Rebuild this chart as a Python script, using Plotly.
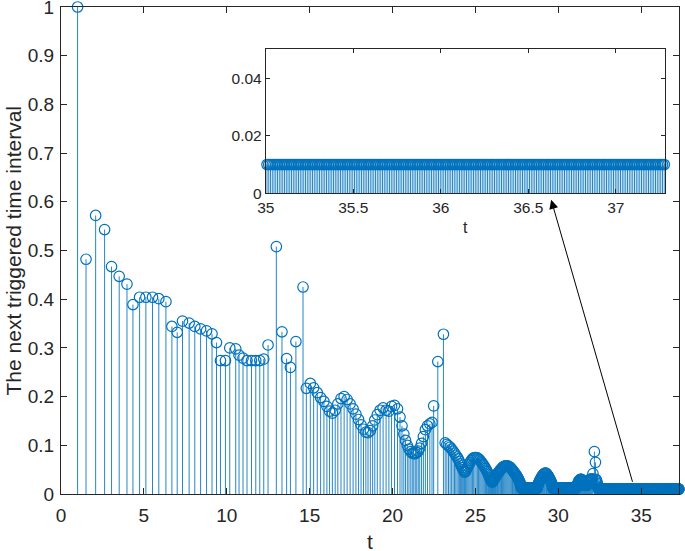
import numpy as np
import plotly.graph_objects as go

# ---- sparse part: trigger instants and the next triggered interval ----
t_sparse = [1.00, 1.51, 2.09, 2.63, 3.05, 3.51, 3.98, 4.34, 4.74, 5.12,
            5.52, 5.90, 6.33, 6.69, 7.01, 7.33, 7.73, 8.07, 8.42, 8.78,
            9.11, 9.38, 9.62, 9.92, 10.18, 10.54, 10.74, 10.98, 11.22, 11.49,
            11.75, 11.99, 12.23, 12.49, 12.99, 13.33, 13.61, 13.84, 14.17, 14.60,
            14.80, 15.04, 15.24, 15.46, 15.66, 15.86, 16.04, 16.20, 16.37, 16.54,
            16.70, 16.89, 17.08, 17.26, 17.44, 17.62, 17.79, 17.95, 18.10, 18.25,
            18.39, 18.52, 18.66, 18.80, 18.93, 19.08, 19.25, 19.43, 19.61, 19.78,
            19.94, 20.12, 20.30, 20.45, 20.57, 20.68, 20.78, 20.89, 20.99, 21.10,
            21.19, 21.28, 21.37, 21.46, 21.55, 21.64, 21.75, 21.86, 21.98, 22.11,
            22.25, 22.38, 22.48, 22.73, 23.07]
y_sparse = [1.000, 0.482, 0.572, 0.543, 0.467, 0.447, 0.431, 0.389, 0.404, 0.404,
            0.404, 0.401, 0.395, 0.344, 0.332, 0.355, 0.351, 0.344, 0.339, 0.335,
            0.329, 0.311, 0.274, 0.274, 0.300, 0.298, 0.285, 0.279, 0.274, 0.274,
            0.274, 0.274, 0.277, 0.306, 0.508, 0.333, 0.278, 0.260, 0.313, 0.425,
            0.217, 0.227, 0.218, 0.208, 0.198, 0.190, 0.180, 0.170, 0.166, 0.172,
            0.185, 0.196, 0.200, 0.194, 0.185, 0.175, 0.164, 0.153, 0.142, 0.133,
            0.127, 0.126, 0.130, 0.140, 0.152, 0.163, 0.172, 0.177, 0.172, 0.170,
            0.180, 0.182, 0.175, 0.158, 0.140, 0.123, 0.110, 0.100, 0.092, 0.087,
            0.084, 0.083, 0.083, 0.085, 0.088, 0.094, 0.104, 0.118, 0.132, 0.140,
            0.144, 0.147, 0.181, 0.272, 0.328]

# ---- dense part: successive intervals (each interval is the next stem height) ----
dense_a = [0.105, 0.102, 0.099, 0.096, 0.092, 0.088, 0.084, 0.080, 0.076, 0.072,
           0.067, 0.062, 0.058, 0.054, 0.050, 0.047, 0.045]
dense_b = [0.046, 0.049, 0.053, 0.057, 0.061, 0.065, 0.069, 0.072, 0.074, 0.075]
dense_c = [0.075, 0.074, 0.072, 0.070, 0.067, 0.064, 0.061, 0.058, 0.055, 0.052,
           0.049, 0.046, 0.043, 0.040, 0.037, 0.034, 0.031, 0.029, 0.027, 0.026, 0.025]
dense_d = [0.025, 0.026, 0.028, 0.030, 0.032, 0.034, 0.036, 0.038, 0.040, 0.042,
           0.044, 0.046, 0.048, 0.050, 0.052, 0.054, 0.056, 0.057, 0.058, 0.058,
           0.058, 0.057, 0.056]
dense_e = [0.055, 0.053, 0.051, 0.049, 0.047, 0.045, 0.043, 0.041, 0.039, 0.037,
           0.035, 0.033, 0.031, 0.029, 0.027, 0.025, 0.023, 0.021, 0.019, 0.017,
           0.015, 0.013, 0.012]
dense_f = [0.012] * 77
dense_g = [0.013, 0.015, 0.017, 0.019, 0.021, 0.023, 0.025, 0.027, 0.029, 0.031,
           0.033, 0.035, 0.037, 0.039, 0.041, 0.042, 0.043,
           0.043, 0.042, 0.040, 0.038, 0.036, 0.034, 0.032, 0.030, 0.028, 0.026,
           0.024, 0.022, 0.020, 0.018, 0.016, 0.014, 0.013, 0.012]
dense_h = [0.012] * 114
dense_i = [0.012, 0.013, 0.014, 0.015, 0.017, 0.019, 0.021, 0.023, 0.025, 0.027,
           0.028, 0.029, 0.030, 0.030, 0.030, 0.029, 0.028, 0.027, 0.026,
           0.024, 0.022, 0.020, 0.019, 0.018, 0.018, 0.018, 0.019,
           0.018, 0.018, 0.018, 0.018, 0.018,
           0.020, 0.022, 0.024, 0.026, 0.028, 0.030, 0.030, 0.030, 0.029, 0.028,
           0.031, 0.042, 0.087, 0.065, 0.030, 0.028, 0.025, 0.022, 0.019, 0.016,
           0.014, 0.012]
dense_tail = [0.01] * 487

# tick labels
main_xticks = [0, 5, 10, 15, 20, 25, 30, 35]
main_yticks = [0, 0.1, 0.2, 0.3, 0.4, 0.5, 0.6, 0.7, 0.8, 0.9, 1]
main_ytext = ["0", "0.1", "0.2", "0.3", "0.4", "0.5", "0.6", "0.7", "0.8", "0.9", "1"]
inset_xticks = [35, 35.5, 36, 36.5, 37]
inset_yticks = [0, 0.02, 0.04]
inset_ytext = ["0", "0.02", "0.04"]

dense_y = np.array(dense_a + dense_b + dense_c + dense_d + dense_e + dense_f
                   + dense_g + dense_h + dense_i + dense_tail)
dense_t = t_sparse[-1] + np.cumsum(dense_y)

t_all = np.concatenate([np.array(t_sparse), dense_t])
y_all = np.concatenate([np.array(y_sparse), dense_y])

X_MAX = 37.28
BLUE = "#0072BD"
AX = "#262626"
FONT = "Liberation Sans, Arial, Helvetica, sans-serif"


def stem_xy(t, y):
    xs, ys = [], []
    for a, b in zip(t, y):
        xs += [a, a, None]
        ys += [0, b, None]
    return xs, ys


fig = go.Figure()

sx, sy = stem_xy(t_all, y_all)
fig.add_trace(go.Scatter(x=sx, y=sy, mode="lines",
                         line=dict(color=BLUE, width=1), opacity=0.85,
                         hoverinfo="skip", showlegend=False))
fig.add_trace(go.Scatter(x=t_all, y=y_all, mode="markers",
                         marker=dict(symbol="circle-open", size=10.5, color=BLUE,
                                     line=dict(color=BLUE, width=1.2)),
                         cliponaxis=False, showlegend=False))

# inset: zoom on the tail
mask = t_all >= 34.995
ti, yi = t_all[mask], y_all[mask]
sx2, sy2 = stem_xy(ti, yi)
fig.add_trace(go.Scatter(x=sx2, y=sy2, mode="lines", xaxis="x2", yaxis="y2",
                         line=dict(color=BLUE, width=1), opacity=0.85,
                         hoverinfo="skip", showlegend=False))
fig.add_trace(go.Scatter(x=ti, y=yi, mode="markers", xaxis="x2", yaxis="y2",
                         marker=dict(symbol="circle-open", size=10.5, color=BLUE,
                                     line=dict(color=BLUE, width=1.2)),
                         cliponaxis=False, showlegend=False))


def axis_style(ticklen, size, standoff):
    return dict(showline=True, linecolor=AX, linewidth=1, mirror="ticks",
                ticks="inside", tickcolor=AX, ticklen=ticklen, showgrid=False,
                zeroline=False, automargin=False, ticklabeloverflow="allow",
                ticklabelstandoff=standoff,
                tickfont=dict(family=FONT, color=AX, size=size))


fig.update_layout(
    width=685, height=551,
    margin=dict(l=61, r=6, t=7, b=57),
    paper_bgcolor="white", plot_bgcolor="white",
    font=dict(family=FONT, color=AX),
    xaxis=dict(range=[0, X_MAX], tickmode="array", tickvals=main_xticks,
               **axis_style(6, 19, 4)),
    yaxis=dict(range=[0, 1], tickmode="array", tickvals=main_yticks,
               ticktext=main_ytext, **axis_style(6, 19, 2)),
    xaxis2=dict(domain=[0.3314, 0.977], anchor="y2", range=[35, X_MAX],
                tickmode="array", tickvals=inset_xticks, **axis_style(4, 15.5, 0)),
    yaxis2=dict(domain=[0.6175, 0.9131], anchor="x2", range=[0, 0.05],
                tickmode="array", tickvals=inset_yticks, ticktext=inset_ytext,
                **axis_style(4, 15.5, 0)),
    annotations=[
        dict(x=29.57, y=0.604, ax=34.50, ay=0.022,
             xref="x", yref="y", axref="x", ayref="y",
             text="", showarrow=True, arrowhead=2, arrowsize=1.8,
             arrowwidth=1, arrowcolor="black", standoff=0),
        dict(text="t", xref="paper", yref="paper", x=0.5, y=-0.098,
             xanchor="center", yanchor="middle", showarrow=False,
             font=dict(family=FONT, size=21, color=AX)),
        dict(text="The next triggered time interval", xref="paper", yref="paper",
             x=-0.0761, y=0.5, xanchor="center", yanchor="middle", textangle=-90,
             showarrow=False, font=dict(family=FONT, size=21, color=AX)),
        dict(text="t", xref="paper", yref="paper", x=0.654, y=0.548,
             xanchor="center", yanchor="middle", showarrow=False,
             font=dict(family=FONT, size=16, color=AX)),
    ],
)

fig.write_html("out.html",
               config={"displayModeBar": False},
               post_script="document.body.style.margin='0';"
                           "document.body.style.overflow='hidden';")
